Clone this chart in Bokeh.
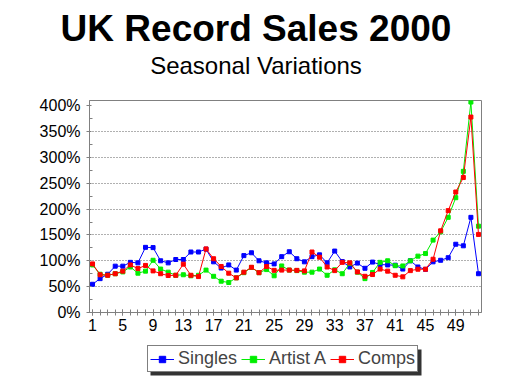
from bokeh.plotting import figure
from bokeh.layouts import column
from bokeh.models import (FixedTicker, PrintfTickFormatter, BoxAnnotation, Div,
                          Legend, LegendItem, Range1d)
from bokeh.embed import file_html
from bokeh.resources import INLINE

weeks = list(range(1, 53))
singles = [54.6, 65.5, 74, 89.6, 89.6, 97, 96, 126, 125.5, 100,
           96, 102.5, 102.5, 117, 117, 122.5, 98, 86, 92, 82,
           110, 115.5, 100, 96, 94, 108, 117.5, 104, 98, 108,
           111.5, 96, 118.8, 98.5, 88, 95.5, 85.5, 97.5, 92.8, 92,
           91.5, 84, 100, 88, 83.5, 98, 101, 106, 132, 129,
           184, 75]
artist_a = [92, 74, 72, 75, 78.5, 88, 76, 80, 101, 84,
            78, 72, 73, 71, 72, 82, 70, 60.5, 58, 67,
            77, 87, 77, 83, 71, 90, 82, 81, 78, 78,
            84, 72, 82.5, 75, 95, 78, 65.5, 77.5, 97, 100,
            90.5, 90, 100, 109, 114, 140, 156, 184, 222, 273,
            407, 167]
comps = [94, 73, 72, 75, 80, 92, 85, 91, 80.5, 75,
         71.5, 72, 93.5, 72, 69.5, 123, 104, 89, 76, 67,
         78, 87.5, 77, 89, 81.5, 82, 82, 81.5, 80.5, 117,
         107, 88, 81, 97, 96, 78.5, 70, 73.4, 84, 80,
         72, 69, 81, 83.7, 83.7, 103, 158, 197, 233, 261,
         378, 151]
series_names = ["Singles", "Artist A", "Comps"]
x_labels = [1, 5, 9, 13, 17, 21, 25, 29, 33, 37, 41, 45, 49]
y_ticks = [0, 50, 100, 150, 200, 250, 300, 350, 400]
y_minor = [25, 75, 125, 175, 225, 275, 325, 375]
grid_ticks = [50, 100, 150, 200, 250, 300, 350]
title_text = "UK Record Sales 2000"
subtitle_text = "Seasonal Variations"

FONT = "Liberation Sans"
COLORS = ["#0000ff", "#00ee00", "#ff0000"]
all_series = [singles, artist_a, comps]

# ---- header with the titles (HTML text)
header_html = (
    '<div style="position:relative;width:512px;height:88px;font-family:\'Liberation Sans\';color:black;">'
    '<div style="position:absolute;left:0;top:10px;width:512px;text-align:center;'
    'font-size:37px;line-height:37px;font-weight:bold;white-space:nowrap;">' + title_text + '</div>'
    '<div style="position:absolute;left:0;top:54px;width:512px;text-align:center;'
    'font-size:24px;line-height:24px;white-space:nowrap;">' + subtitle_text + '</div>'
    '</div>'
)
header = Div(text=header_html, width=512, height=88, margin=0)

# ---- main chart
p = figure(frame_width=392, frame_height=212, output_backend="svg", toolbar_location=None,
           x_range=Range1d(0.6, 52.4), y_range=Range1d(0, 410),
           min_border_left=89, min_border_right=31, min_border_top=12,
           min_border_bottom=28, background_fill_color="white",
           border_fill_color="white")
p.title.visible = False

for vals, col in zip(all_series, COLORS):
    p.line(weeks, vals, line_color=col, line_width=1)
    p.scatter(weeks, vals, marker="square", size=4, fill_color=col, line_color=col)

p.xaxis.ticker = FixedTicker(ticks=x_labels, minor_ticks=weeks)
p.xaxis.major_tick_in = 3
p.xaxis.major_tick_out = 3
p.xaxis.minor_tick_in = 3
p.xaxis.minor_tick_out = 3
p.xaxis.major_label_standoff = 3

p.yaxis.ticker = FixedTicker(ticks=y_ticks, minor_ticks=y_minor)
p.yaxis.formatter = PrintfTickFormatter(format="%d%%")
p.yaxis.major_tick_in = 2
p.yaxis.major_tick_out = 3
p.yaxis.minor_tick_in = 3
p.yaxis.minor_tick_out = 0
p.yaxis.major_label_standoff = 6

for ax in (p.xaxis, p.yaxis):
    ax.axis_line_color = "#808080"
    ax.major_tick_line_color = "#808080"
    ax.minor_tick_line_color = "#808080"
    ax.major_label_text_font = FONT
    ax.major_label_text_font_size = "16px"
    ax.major_label_text_color = "black"

p.xgrid.visible = False
p.ygrid.ticker = FixedTicker(ticks=grid_ticks)
p.ygrid.grid_line_color = "#606060"
p.ygrid.grid_line_dash = "1 2"
p.outline_line_color = "#808080"

# ---- legend strip (its own small figure; series drawn out of view, legend only)
leg = figure(width=512, height=44, output_backend="svg", toolbar_location=None,
             x_range=Range1d(-2, -1), y_range=Range1d(-2, -1),
             x_axis_location=None, y_axis_location=None, min_border=0,
             outline_line_color=None, background_fill_color="white",
             border_fill_color="white")
leg.grid.visible = False
leg.title.visible = False
items = []
for name, vals, col in zip(series_names, all_series, COLORS):
    ln = leg.line(weeks, vals, line_color=col, line_width=1)
    sc = leg.scatter(weeks, vals, marker="square", size=4, fill_color=col, line_color=col)
    items.append(LegendItem(label=name, renderers=[ln, sc]))

leg.add_layout(BoxAnnotation(left=61, right=332, top=35, bottom=9,
                             left_units="screen", right_units="screen",
                             top_units="screen", bottom_units="screen",
                             fill_color="#333333", fill_alpha=1, line_color=None))
legend = Legend(items=items, orientation="horizontal", location=(58, 12),
                label_text_font=FONT, label_text_font_size="18px",
                glyph_width=24, glyph_height=16, label_standoff=4, spacing=4,
                padding=2, margin=0, label_height=20,
                border_line_color="black", border_line_width=1,
                background_fill_color="white", background_fill_alpha=1)
leg.add_layout(legend)

layout = column(header, p, leg, spacing=0)
open("out.html", "w").write(file_html(layout, INLINE))
